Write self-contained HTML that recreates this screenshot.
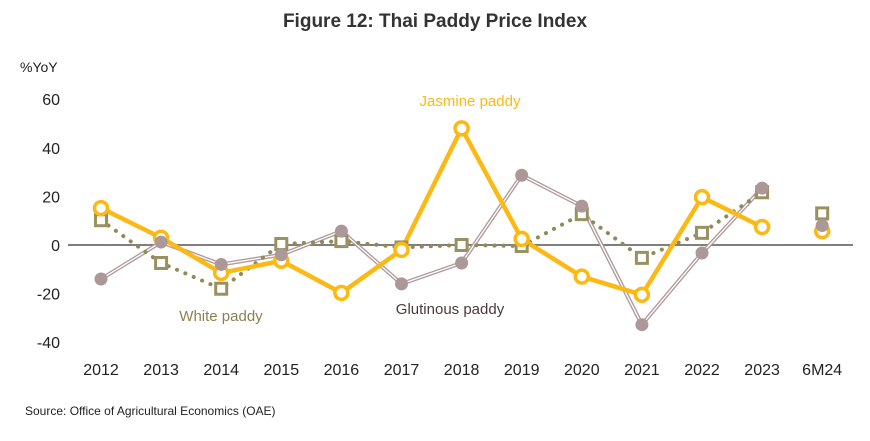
<!DOCTYPE html>
<html><head><meta charset="utf-8"><style>
body{margin:0;background:#fff;width:870px;height:436px;overflow:hidden;font-family:"Liberation Sans",sans-serif}
</style></head><body>
<svg id="chart" width="870" height="436" xmlns="http://www.w3.org/2000/svg">
<text x="435" y="27" text-anchor="middle" font-size="19" font-weight="bold" fill="#333">Figure 12: Thai Paddy Price Index</text>
<text x="20" y="72" font-size="14" fill="#222">%YoY</text>
<text x="25" y="415" font-size="12" fill="#222">Source: Office of Agricultural Economics (OAE)</text>
<text x="470" y="106" text-anchor="middle" font-size="15" fill="#fdb913">Jasmine paddy</text>
<text x="221" y="321" text-anchor="middle" font-size="15" fill="#8a8150">White paddy</text>
<text x="450" y="314" text-anchor="middle" font-size="15" fill="#4a3a3a">Glutinous paddy</text>
<g id="axes"></g><g id="series"></g>
</svg>
<script>
const categories=["2012","2013","2014","2015","2016","2017","2018","2019","2020","2021","2022","2023","6M24"];
const yTicks=[60,40,20,0,-20,-40];
const jasmine=[15.2,3,-11.5,-6.5,-19.7,-2,48,2.5,-13,-20.5,19.7,7.4,5.7];
const white=[10.2,-7.4,-18,0.4,1.6,-1,0,-0.4,12.7,-5.3,5,21.7,13];
const glutinous=[-14,1.2,-8,-4,5.7,-16,-7.4,28.7,16,-32.8,-3.3,23.4,8];
const NS="http://www.w3.org/2000/svg";
const x=i=>101+i*60.1;
const y=v=>245-v*2.43;
function el(t,a,p){const e=document.createElementNS(NS,t);for(const k in a)e.setAttribute(k,a[k]);p.appendChild(e);return e;}
const axes=document.getElementById('axes'),ser=document.getElementById('series');
yTicks.forEach(v=>{const t=el('text',{x:60,y:y(v)+6,'text-anchor':'end','font-size':16,fill:'#222'},axes);t.textContent=v;

});
categories.forEach((c,i)=>{const t=el('text',{x:x(i),y:375,'text-anchor':'middle','font-size':16,fill:'#222'},axes);t.textContent=c;

});
const zl=el('line',{x1:68,x2:853,y1:y(0),y2:y(0),stroke:'#7f7f7f','stroke-width':2},axes);


const pts=(arr)=>arr.slice(0,12).map((v,i)=>x(i)+','+y(v)).join(' ');
// glutinous
let g1=el('polyline',{points:pts(glutinous),fill:'none',stroke:'#b09a9a','stroke-width':4},ser);


el('polyline',{points:pts(glutinous),fill:'none',stroke:'#fff','stroke-width':1.3},ser);
// white
let w1=el('polyline',{points:pts(white),fill:'none',stroke:'#8f8a5a','stroke-width':4,'stroke-dasharray':'0.1 9','stroke-linecap':'round'},ser);


// jasmine
let j1=el('polyline',{points:pts(jasmine),fill:'none',stroke:'#fdb913','stroke-width':4.5,'stroke-linejoin':'round'},ser);


white.forEach((v,i)=>{const r=el('rect',{x:x(i)-5.5,y:y(v)-5.5,width:11,height:11,fill:'#fff',stroke:'#9a9160','stroke-width':3},ser);

});
jasmine.forEach((v,i)=>{const c=el('circle',{cx:x(i),cy:y(v),r:6.5,fill:'#fff',stroke:'#fdb913','stroke-width':3.5},ser);

});
glutinous.forEach((v,i)=>{const c=el('circle',{cx:x(i),cy:y(v),r:6.5,fill:'#ac9898'},ser);

});
</script>
</body></html>
